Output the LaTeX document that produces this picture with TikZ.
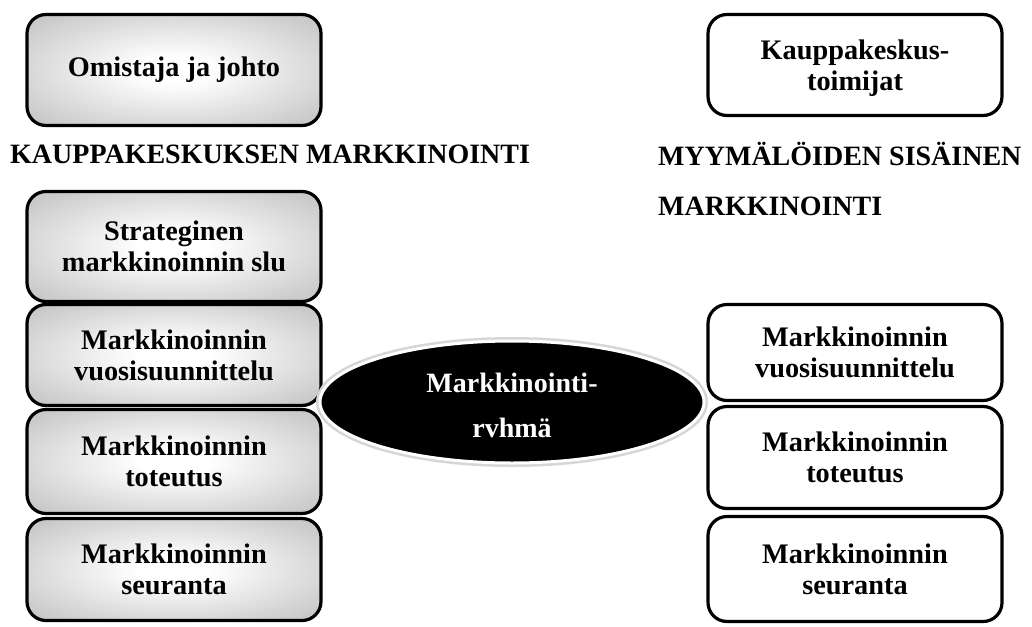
\documentclass[tikz,border=0pt]{standalone}
\usepackage{fontspec}
\setmainfont{Liberation Serif}
\usetikzlibrary{shapes.geometric}

% soft grey glow: white centre fading to grey edges
\pgfdeclareradialshading{boxglow}{\pgfpoint{0bp}{0bp}}{%
  color(0bp)=(white); color(6bp)=(white);
  color(50bp)=(black!36); color(72bp)=(black!48)}

\tikzset{
  txt/.style={font=\fontsize{28.3}{31}\selectfont\bfseries, align=center, text=black},
  box/.style={txt, rectangle, rounded corners=19pt, draw=black, line width=3.2pt,
              minimum width=294pt, inner sep=0pt},
  greybox/.style={box, shading=boxglow},
  whitebox/.style={box, fill=white},
  title/.style={font=\fontsize{28}{31}\selectfont\bfseries, anchor=base west, inner sep=0pt},
  team/.style={ellipse, fill=black, draw=white, line width=3pt,
               preaction={draw=black!16, line width=8pt},
               minimum width=384pt, minimum height=122pt, inner sep=0pt,
               font=\fontsize{28}{45}\selectfont\bfseries, align=center, text=white}
}

\begin{document}
\begin{tikzpicture}[x=1pt, y=-1pt]
  \useasboundingbox[fill=white] (0,0) rectangle (1032,626);

  % left column: shopping-centre marketing
  \node[greybox, minimum height=111pt] (owner) at (174,70) {Omistaja ja johto};
  \node[title] (lefttitle) at (10,163) {KAUPPAKESKUKSEN MARKKINOINTI};
  \node[greybox, minimum height=110pt] (strat) at (174,246.5) {Strateginen\\markkinoinnin slu};
  \node[greybox, minimum height=101pt] (plan) at (174,355) {Markkinoinnin\\vuosisuunnittelu};
  \node[greybox, minimum height=104pt] (impl) at (174,461.5) {Markkinoinnin\\toteutus};
  \node[greybox, minimum height=102pt] (follow) at (174,569.5) {Markkinoinnin\\seuranta};

  % right column: internal marketing of the shops
  \node[whitebox, minimum height=101pt, text depth=0pt] (actors) at (855,65) {Kauppakeskus-\\toimijat};
  \node[title] (righttitleA) at (658,165) {MYYMÄLÖIDEN SISÄINEN};
  \node[title] (righttitleB) at (658,215) {MARKKINOINTI};
  \node[whitebox, minimum height=96pt] (rplan) at (855,352.5) {Markkinoinnin\\vuosisuunnittelu};
  \node[whitebox, minimum height=102pt] (rimpl) at (855,457.5) {Markkinoinnin\\toteutus};
  \node[whitebox, minimum height=105pt] (rfollow) at (855,569) {Markkinoinnin\\seuranta};

  % marketing team in the middle, touching both columns
  \node[team] (team) at (512,402) {\rule{0pt}{27pt}Markkinointi-\\rvhmä};
\end{tikzpicture}
\end{document}
